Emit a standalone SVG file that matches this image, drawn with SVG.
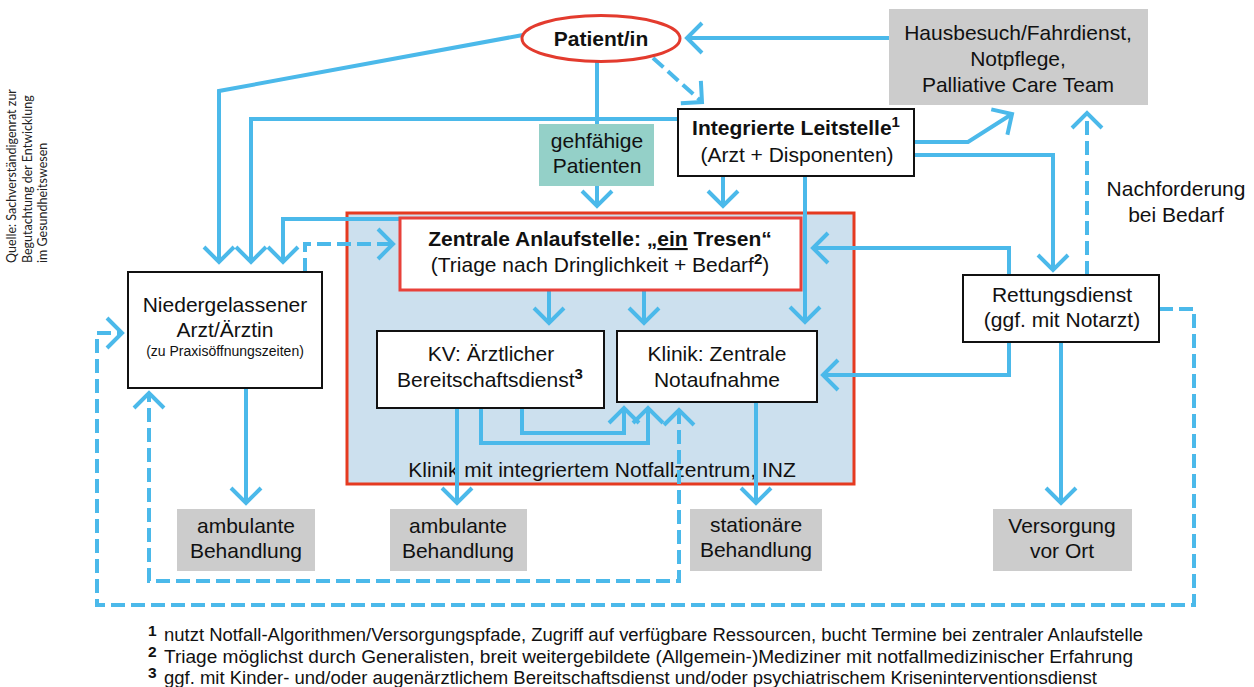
<svg xmlns="http://www.w3.org/2000/svg" width="1254" height="687" viewBox="0 0 1254 687">
<style>
text{font-family:"Liberation Sans",Arial,sans-serif;fill:#111;}
.t{font-size:21px;text-anchor:middle;}
.b{font-weight:bold;}
.s{font-size:14px;text-anchor:middle;}
.sup{font-size:15px;font-weight:bold;}
.box{fill:#fff;stroke:#111;stroke-width:2;}
.gray{fill:#cccccc;}
.c{fill:none;stroke:#4bb9ea;stroke-width:4;marker-end:url(#ah);}
.p{fill:none;stroke:#4bb9ea;stroke-width:4;}
.d{stroke-dasharray:14 6;}
.src{font-family:Lato,"Open Sans",sans-serif;font-size:12.5px;fill:#222;}
.fn{font-size:17.5px;}
.fnn{font-size:15.5px;font-weight:bold;}
</style>
<defs>
<marker id="ah" viewBox="-20 -20 40 40" markerWidth="40" markerHeight="40" refX="0" refY="0" orient="auto-start-reverse" markerUnits="userSpaceOnUse">
<path d="M-15,-15 L0,0 L-15,15" fill="none" stroke="#4bb9ea" stroke-width="4"/>
</marker>
</defs>
<rect width="1254" height="687" fill="#fff"/>

<g id="source">
<text class="src" transform="rotate(-90)"><tspan x="-263" y="16">Quelle: Sachverständigenrat zur</tspan><tspan x="-263" y="32">Begutachtung der Entwicklung</tspan><tspan x="-263" y="47">im Gesundheitswesen</tspan></text>
</g>

<g id="inz">
<rect x="347" y="213" width="507" height="271" fill="#cce0ee" stroke="#e53a20" stroke-width="3"/>
<text class="t" x="602" y="477">Klinik mit integriertem Notfallzentrum, INZ</text>
</g>

<g id="connectors">
<polyline class="c" points="523,35 219,91 219,262"/>
<polyline class="p" points="597,62 597,124"/>
<polyline class="c" points="678,119 251,119 251,262"/>
<polyline class="c" points="597,186 597,206"/>
<polyline class="c" points="400,219 283,219 283,262"/>
<polyline class="c d" points="305,272 305,244 393,244"/>
<polyline class="c" points="889,38 687,38"/>
<polyline class="c d" points="653,58 702,102"/>
<polyline class="c" points="723,176 723,206"/>
<polyline class="c" points="805,176 805,322"/>
<polyline class="c" points="914,142 968,142 1012,114"/>
<polyline class="c" points="914,155 1053,155 1053,270"/>
<polyline class="c d" points="1087,275 1087,113"/>
<polyline class="c" points="1009,275 1009,248 813,248"/>
<polyline class="c" points="1009,342 1009,375 823,375"/>
<polyline class="c" points="1061,342 1061,503"/>
<polyline class="c d" points="1159,309 1194,309 1194,605 97,605 97,333 122,333"/>
<polyline class="c" points="549,290 549,323"/>
<polyline class="c" points="644,290 644,323"/>
<polyline class="c" points="522,408 522,433 624,433 624,408"/>
<polyline class="c" points="481,408 481,443 648,443 648,408"/>
<polyline class="c" points="457,408 457,503"/>
<polyline class="c" points="756,402 756,503"/>
<polyline class="c" points="246,388 246,503"/>
<polyline class="c d" points="679,410 679,581 149,581 149,393" marker-start="url(#ah)"/>
</g>

<g id="patient">
<ellipse cx="601" cy="38.5" rx="79" ry="23" fill="#fff" stroke="#e33b2e" stroke-width="3"/>
<text class="t b" x="601" y="46">Patient/in</text>
</g>

<g id="hausbesuch">
<rect class="gray" x="889" y="9" width="259" height="96"/>
<text class="t" x="1018" y="40">Hausbesuch/Fahrdienst,</text>
<text class="t" x="1018" y="66">Notpflege,</text>
<text class="t" x="1018" y="92">Palliative Care Team</text>
</g>

<g id="leitstelle">
<rect class="box" x="678" y="109" width="236" height="67"/>
<text class="t b" x="796" y="135">Integrierte Leitstelle<tspan class="sup" dy="-8">1</tspan></text>
<text class="t" x="797" y="162">(Arzt + Disponenten)</text>
</g>

<g id="gehfaehige">
<rect x="539" y="124" width="115" height="62" fill="#94d0c8"/>
<text class="t" x="597" y="148">gehfähige</text>
<text class="t" x="597" y="173">Patienten</text>
</g>

<g id="zentrale">
<rect x="400" y="218" width="401" height="72" fill="#fff" stroke="#e8413a" stroke-width="3"/>
<text class="t b" x="600" y="246">Zentrale Anlaufstelle: „<tspan text-decoration="underline">ein</tspan> Tresen“</text>
<text class="t" x="600" y="272">(Triage nach Dringlichkeit + Bedarf<tspan class="sup" dy="-8">2</tspan><tspan dy="8">)</tspan></text>
</g>

<g id="kv">
<rect class="box" x="377" y="331" width="227" height="77"/>
<text class="t" x="491" y="361">KV: Ärztlicher</text>
<text class="t" x="490" y="387">Bereitschaftsdienst<tspan class="sup" dy="-8">3</tspan></text>
</g>

<g id="klinik">
<rect class="box" x="617" y="331" width="200" height="71"/>
<text class="t" x="717" y="361">Klinik: Zentrale</text>
<text class="t" x="717" y="387">Notaufnahme</text>
</g>

<g id="niedergelassener">
<rect class="box" x="128" y="272" width="194" height="116"/>
<text class="t" x="225" y="312">Niedergelassener</text>
<text class="t" x="225" y="337">Arzt/Ärztin</text>
<text class="s" x="225" y="356">(zu Praxisöffnungszeiten)</text>
</g>

<g id="rettungsdienst">
<rect class="box" x="963" y="275" width="196" height="67"/>
<text class="t" x="1062" y="302">Rettungsdienst</text>
<text class="t" x="1062" y="327">(ggf. mit Notarzt)</text>
</g>

<g id="nachforderung">
<text class="t" x="1176" y="196">Nachforderung</text>
<text class="t" x="1176" y="222">bei Bedarf</text>
</g>

<g id="ambulante1">
<rect class="gray" x="177" y="509" width="138" height="62"/>
<text class="t" x="246" y="533">ambulante</text>
<text class="t" x="246" y="558">Behandlung</text>
</g>

<g id="ambulante2">
<rect class="gray" x="390" y="509" width="137" height="62"/>
<text class="t" x="458" y="533">ambulante</text>
<text class="t" x="458" y="558">Behandlung</text>
</g>

<g id="stationaere">
<rect class="gray" x="690" y="509" width="132" height="62"/>
<text class="t" x="756" y="532">stationäre</text>
<text class="t" x="756" y="557">Behandlung</text>
</g>

<g id="versorgung">
<rect class="gray" x="993" y="509" width="139" height="62"/>
<text class="t" x="1062" y="533">Versorgung</text>
<text class="t" x="1062" y="558">vor Ort</text>
</g>

<g id="footnotes">
<text class="fnn" x="148" y="636">1</text>
<text class="fn" x="164" y="641" textLength="979" lengthAdjust="spacingAndGlyphs">nutzt Notfall-Algorithmen/Versorgungspfade, Zugriff auf verfügbare Ressourcen, bucht Termine bei zentraler Anlaufstelle</text>
<text class="fnn" x="148" y="657">2</text>
<text class="fn" x="164" y="663" textLength="969" lengthAdjust="spacingAndGlyphs">Triage möglichst durch Generalisten, breit weitergebildete (Allgemein-)Mediziner mit notfallmedizinischer Erfahrung</text>
<text class="fnn" x="148" y="678">3</text>
<text class="fn" x="164" y="684" textLength="933" lengthAdjust="spacingAndGlyphs">ggf. mit Kinder- und/oder augenärztlichem Bereitschaftsdienst und/oder psychiatrischem Kriseninterventionsdienst</text>
</g>
</svg>
